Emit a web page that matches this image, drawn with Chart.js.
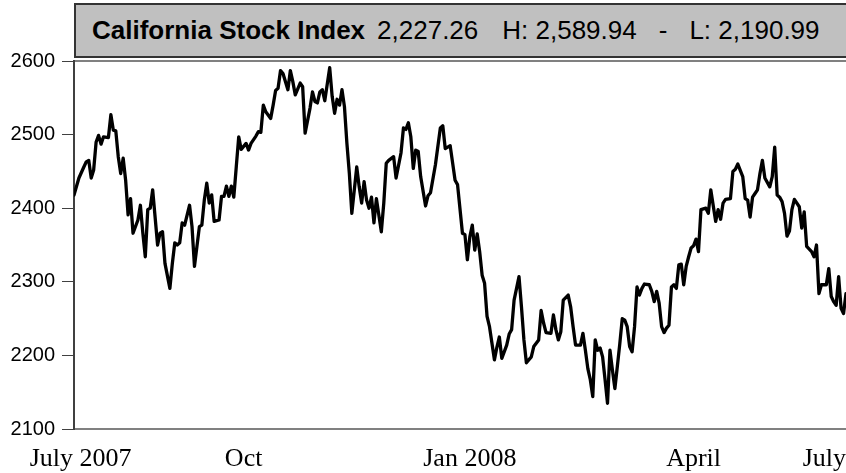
<!DOCTYPE html>
<html>
<head>
<meta charset="utf-8">
<script src="https://cdn.jsdelivr.net/npm/chart.js@4/dist/chart.umd.min.js"></script>
<style>
  html, body { margin: 0; padding: 0; background: #fff; }
  #wrap { position: relative; width: 846px; height: 473px; overflow: hidden; }
  #chart { position: absolute; left: 0; top: 0; }
  #header {
    position: absolute; left: 74px; top: 3px; width: 790px; height: 51px;
    background: #c0c0c0; border: 2px solid #333;
    font-family: 'Liberation Sans', Arial, sans-serif; font-size: 26px;
    line-height: 51px; white-space: nowrap; padding-left: 16px; color: #000;
  }
  #header .p1 { margin-left: 12px; }
  #header .p2 { margin-left: 24px; }
  #header .p3 { margin-left: 22px; }
  #header .p4 { margin-left: 22px; }
</style>
</head>
<body>
<div id="wrap">
  <canvas id="chart" width="846" height="473"></canvas>
  <div id="header"></div>
</div>
<script>
'use strict';

const TITLE = 'California Stock Index';
const HEADER_PARTS = ['2,227.26', 'H: 2,589.94', '-', 'L: 2,190.99'];

// days since 1 July 2007
const days = [
  23, 25, 27, 28, 29, 30, 31, 32, 33, 34, 35, 37, 38, 39, 40, 41, 42, 43, 44, 45,
  46, 47, 49, 50, 51, 52, 53, 54, 55, 57, 58, 59, 60, 62, 63, 64, 65, 66, 67, 68,
  70, 71, 72, 74, 75, 76, 77, 78, 79, 80, 82, 83, 84, 85, 86, 87, 88, 89, 90, 91,
  93, 94, 95, 97, 98, 99, 100, 101, 103, 104, 105, 106, 107, 108, 110, 111, 112, 113, 115, 116,
  117, 119, 120, 121, 122, 123, 124, 125, 127, 128, 129, 130, 131, 132, 133, 134, 135, 136, 138, 139,
  140, 141, 142, 143, 144, 145, 146, 148, 149, 150, 151, 153, 154, 156, 157, 158, 159, 160, 161, 162,
  163, 164, 166, 167, 168, 170, 172, 173, 174, 176, 178, 179, 181, 182, 183, 184, 185, 186, 187, 188,
  189, 190, 191, 192, 194, 195, 196, 197, 199, 200, 201, 202, 204, 205, 206, 207, 209, 210, 212, 213,
  214, 215, 217, 218, 219, 220, 221, 222, 224, 225, 226, 227, 229, 230, 231, 232, 233, 234, 235, 236,
  237, 238, 239, 240, 241, 242, 243, 244, 245, 246, 247, 248, 249, 250, 251, 252, 253, 254, 255, 257,
  258, 259, 260, 261, 262, 263, 264, 265, 266, 267, 268, 269, 270, 271, 272, 273, 274, 275, 276, 277,
  278, 280, 281, 282, 284, 285, 286, 287, 288, 290, 291, 292, 293, 295, 296, 297, 298, 299, 300, 301,
  302, 303, 304, 306, 307, 308, 309, 310, 311, 312, 313, 314, 315, 316, 318, 319, 320, 321, 323, 324,
  325, 326, 327, 329, 330, 331, 332, 333, 334, 335, 336, 337
];

const closes = [
  2418, 2441, 2456, 2463, 2465, 2441, 2452, 2490, 2499, 2487, 2497, 2496, 2527, 2506, 2505, 2470, 2447, 2468, 2438, 2391,
  2413, 2366, 2384, 2404, 2366, 2334, 2398, 2400, 2425, 2350, 2366, 2368, 2325, 2291, 2325, 2353, 2350, 2353, 2380, 2377,
  2404, 2375, 2321, 2375, 2377, 2411, 2434, 2407, 2418, 2382, 2384, 2416, 2416, 2430, 2416, 2430, 2415, 2456, 2497, 2480,
  2488, 2479, 2488, 2498, 2504, 2503, 2540, 2531, 2522, 2540, 2560, 2563, 2587, 2583, 2561, 2587, 2572, 2554, 2570, 2565,
  2502, 2536, 2558, 2545, 2543, 2558, 2561, 2546, 2591, 2552, 2529, 2548, 2540, 2561, 2538, 2488, 2447, 2393, 2456, 2429,
  2407, 2436, 2411, 2400, 2415, 2380, 2413, 2368, 2407, 2461, 2465, 2470, 2441, 2475, 2509, 2507, 2516, 2497, 2454, 2479,
  2477, 2443, 2403, 2417, 2421, 2459, 2509, 2512, 2481, 2485, 2438, 2432, 2366, 2364, 2330, 2361, 2377, 2343, 2365, 2341,
  2309, 2298, 2253, 2239, 2194, 2211, 2225, 2196, 2214, 2229, 2235, 2275, 2307, 2266, 2221, 2190, 2198, 2212, 2221, 2261,
  2244, 2231, 2230, 2255, 2235, 2221, 2232, 2275, 2282, 2266, 2239, 2214, 2214, 2230, 2207, 2182, 2167, 2144, 2221, 2207,
  2210, 2198, 2167, 2135, 2207, 2180, 2155, 2185, 2216, 2250, 2248, 2239, 2212, 2205, 2239, 2293, 2282, 2291, 2297, 2296,
  2287, 2273, 2287, 2271, 2239, 2231, 2237, 2241, 2293, 2296, 2291, 2323, 2324, 2296, 2321, 2334, 2346, 2349, 2358, 2341,
  2398, 2400, 2393, 2425, 2382, 2398, 2385, 2407, 2412, 2413, 2450, 2453, 2460, 2443, 2413, 2411, 2388, 2415, 2420, 2425,
  2447, 2465, 2441, 2429, 2443, 2483, 2418, 2415, 2409, 2393, 2362, 2369, 2398, 2412, 2402, 2373, 2395, 2348, 2341, 2334,
  2350, 2284, 2296, 2296, 2318, 2280, 2273, 2268, 2307, 2264, 2257, 2284
];

const yTicks = [2100, 2200, 2300, 2400, 2500, 2600];
const xTickDays = [5, 92, 184, 275, 337];
const xTickLabels = ['July 2007', 'Oct', 'Jan 2008', 'April', 'July'];

const SANS = "'Liberation Sans', Arial, sans-serif";
const SERIF = "'Liberation Serif', 'Times New Roman', serif";

function buildHeader() {
  const h = document.getElementById('header');
  const b = document.createElement('b');
  b.textContent = TITLE;
  h.appendChild(b);
  HEADER_PARTS.forEach((txt, i) => {
    const s = document.createElement('span');
    s.className = 'p' + (i + 1);
    s.textContent = txt;
    h.appendChild(s);
  });
}

function buildChart() {
  const ctx = document.getElementById('chart').getContext('2d');
  return new Chart(ctx, {
    type: 'line',
    data: {
      datasets: [{
        data: days.map((d, i) => ({ x: d, y: closes[i] })),
        borderColor: '#000',
        borderWidth: 3.3,
        borderJoinStyle: 'round',
        borderCapStyle: 'round',
        pointRadius: 0,
        tension: 0,
        fill: false
      }]
    },
    options: {
      responsive: false,
      animation: false,
      layout: { padding: { top: 61, left: 0, right: 0, bottom: 0 } },
      plugins: { legend: { display: false }, tooltip: { enabled: false } },
      scales: {
        x: {
          type: 'linear', position: 'bottom', min: 23, max: 337,
          afterBuildTicks: s => { s.ticks = xTickDays.map(v => ({ value: v })); },
          afterFit: s => { s.height = 44; },
          ticks: {
            autoSkip: false, maxRotation: 0, align: 'inner', padding: 0, color: '#000',
            font: { family: SERIF, size: 26, lineHeight: 1 },
            callback: (v, i) => xTickLabels[i]
          },
          grid: { display: true, drawOnChartArea: false, drawTicks: true, tickLength: 17, color: 'rgba(0,0,0,0)' },
          border: { display: true, color: '#808080', width: 2 }
        },
        x2: {
          type: 'linear', position: 'top', min: 23, max: 337,
          ticks: { display: false },
          grid: { display: false, drawTicks: false },
          border: { display: true, color: '#808080', width: 2 },
          afterFit: s => { s.height = 0; }
        },
        y: {
          min: 2100, max: 2600,
          afterBuildTicks: s => { s.ticks = yTicks.map(v => ({ value: v })); },
          afterFit: s => { s.width = 74; },
          ticks: { padding: 7, color: '#000', font: { family: SANS, size: 20 }, callback: v => String(v) },
          grid: { drawOnChartArea: false, tickLength: 12, color: '#404040', lineWidth: 1 },
          border: { display: true, color: '#404040', width: 2 }
        }
      }
    }
  });
}

buildHeader();
buildChart();
</script>
</body>
</html>
